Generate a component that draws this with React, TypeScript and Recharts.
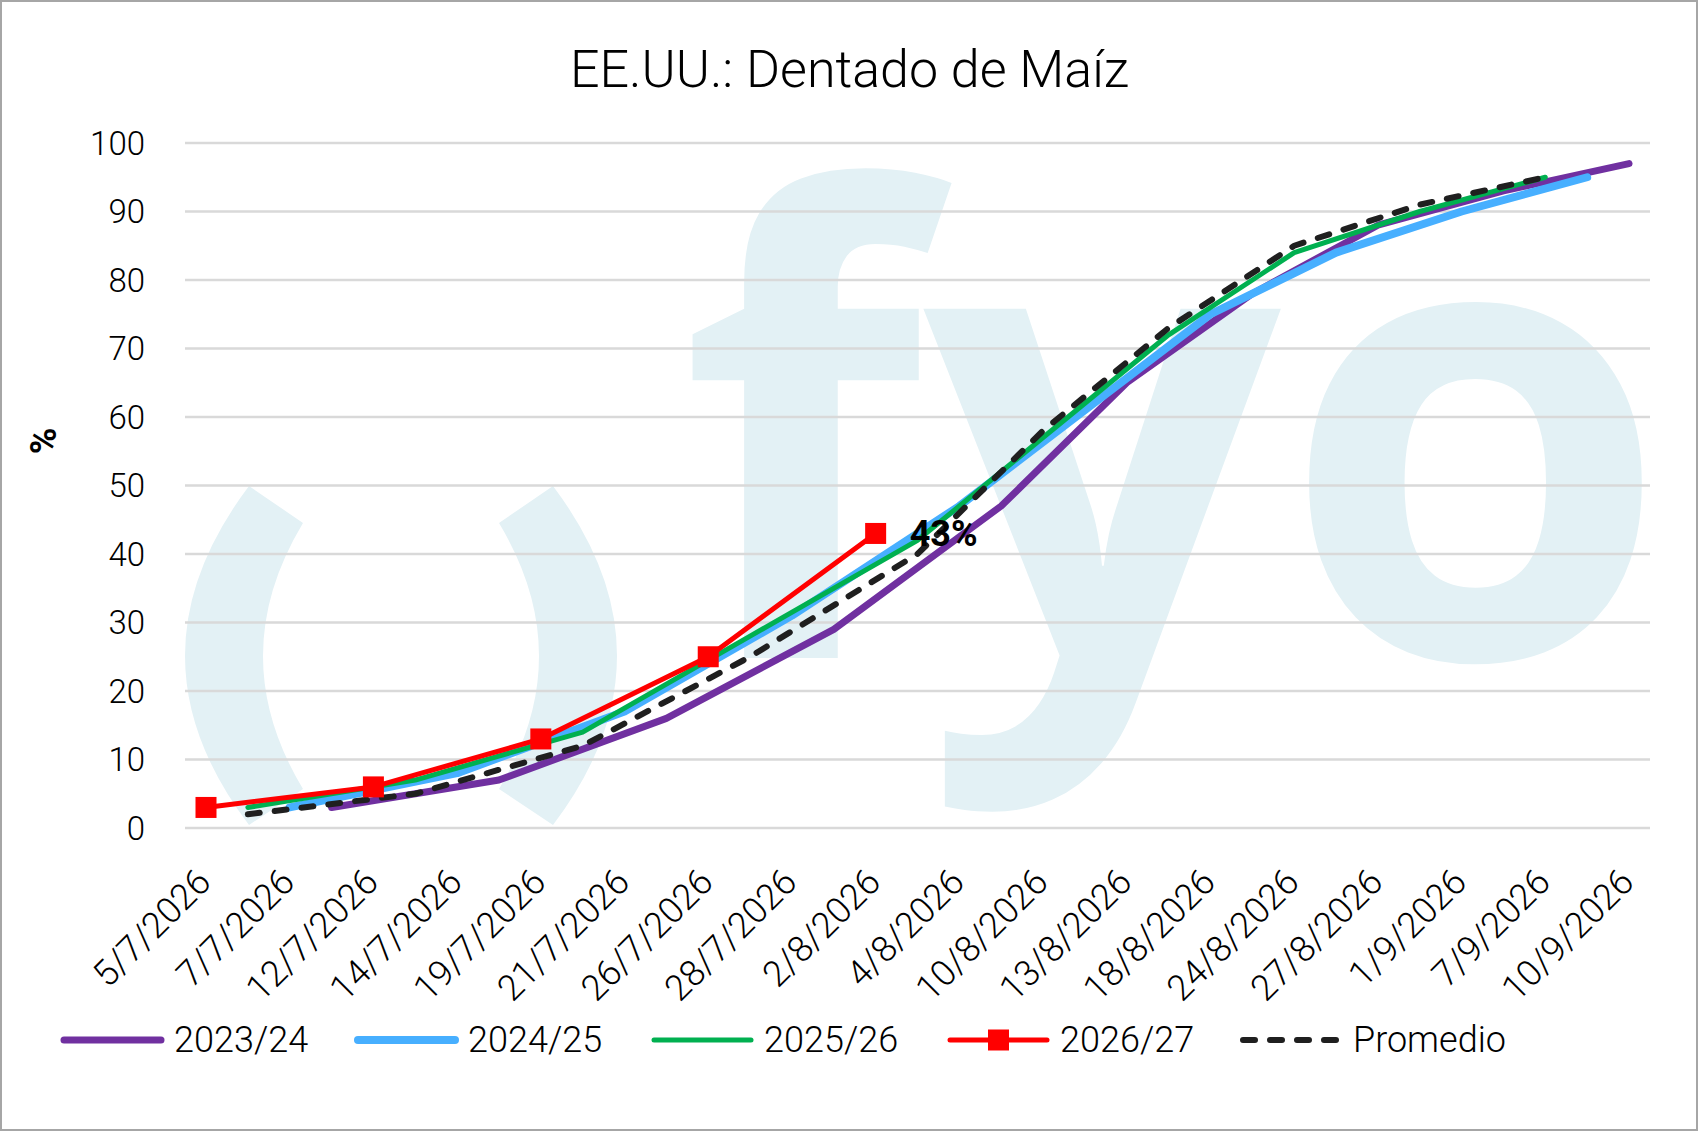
import { LineChart, Line, XAxis, YAxis, CartesianGrid, Legend, LabelList } from "recharts";

// weekly report dates of every season, moved to 2026 (every other one is labelled)
const dates = [
  "5/7/2026", "6/7/2026", "7/7/2026", "9/7/2026", "12/7/2026", "13/7/2026", "14/7/2026",
  "16/7/2026", "19/7/2026", "20/7/2026", "21/7/2026", "23/7/2026", "26/7/2026", "27/7/2026",
  "28/7/2026", "30/7/2026", "2/8/2026", "3/8/2026", "4/8/2026", "6/8/2026", "10/8/2026",
  "11/8/2026", "13/8/2026", "17/8/2026", "18/8/2026", "20/8/2026", "24/8/2026", "25/8/2026",
  "27/8/2026", "31/8/2026", "1/9/2026", "3/9/2026", "7/9/2026", "8/9/2026", "10/9/2026",
];

const s2324 = [null, null, null, 3, null, null, null, 7, null, null, null, 16, null, null, null, 29, null, null, null, 47, null, null, 65, null, null, 78, null, null, 88, null, null, 93, null, null, 97];
const s2425 = [null, null, 3, null, null, null, 8, null, null, null, 17, null, null, null, 31, null, null, null, 47, null, null, 61, null, null, 75, null, null, 84, null, null, 90, null, null, 95, null];
const s2526 = [null, 3, null, null, null, 7, null, null, null, 14, null, null, null, 28, null, null, null, 42, null, null, 57, null, null, 72, null, null, 84, null, null, 90, null, null, 95, null, null];
const s2627 = [3, null, null, null, 6, null, null, null, 13, null, null, null, 25, null, null, null, 43, null, null, null, null, null, null, null, null, null, null, null, null, null, null, null, null, null, null];
const promedio = [null, 2, null, null, null, 5, null, null, null, 12, null, null, null, 25, null, null, null, 40, null, null, 58, null, null, 73, null, null, 85, null, null, 91, null, null, 95, null, null];

const yTicks = [0, 10, 20, 30, 40, 50, 60, 70, 80, 90, 100];

const data = dates.map((date, i) => ({
  date,
  s2324: s2324[i],
  s2425: s2425[i],
  s2526: s2526[i],
  s2627: s2627[i],
  promedio: promedio[i],
}));

const lastRed = s2627.reduce((acc, v, i) => (v != null ? i : acc), 0);

const FONT = "Roboto, 'Liberation Sans', sans-serif";
const W = 1699;
const H = 1132;

const legendItems = [
  { name: "2023/24", color: "#7030A0", width: 7, left: 60 },
  { name: "2024/25", color: "#47AFFF", width: 8, left: 354 },
  { name: "2025/26", color: "#00B050", width: 5, left: 650 },
  { name: "2026/27", color: "#FF0000", width: 5, left: 946, marker: true },
  { name: "Promedio", color: "#1F1F1F", width: 6, left: 1239, dashed: true },
];

function DateTick({ x, y, payload }: any) {
  return (
    <text
      transform={`translate(${x + 7},${y + 56}) rotate(-45)`}
      textAnchor="end"
      fontSize={36}
      fontFamily={FONT}
      fontWeight={300}
      fill="#000"
    >
      {payload.value}
    </text>
  );
}

function SquareDot(props: any) {
  const { cx, cy, value, index } = props;
  if (value == null || cx == null || cy == null) return <g key={`e${index}`} />;
  return <rect key={`d${index}`} x={cx - 10.5} y={cy - 10.5} width={21} height={21} fill="#FF0000" />;
}

function EndLabel(props: any) {
  const { x, y, value, index } = props;
  if (index !== lastRed || value == null) return null;
  return (
    <text x={x + 34} y={y} dy={12.6} fontSize={36} fontWeight={700} fontFamily={FONT} fill="#000">
      {value}%
    </text>
  );
}

function LegendBox() {
  return (
    <div style={{ position: "relative", height: 56, fontFamily: FONT, fontWeight: 300, fontSize: 36, color: "#000" }}>
      {legendItems.map((it) => (
        <div key={it.name} style={{ position: "absolute", left: it.left, top: 0, display: "flex", alignItems: "center", height: 56 }}>
          <svg width={105} height={30} style={{ marginRight: 9 }}>
            <line
              x1={4}
              y1={15}
              x2={101}
              y2={15}
              stroke={it.color}
              strokeWidth={it.width}
              strokeLinecap="round"
              strokeDasharray={it.dashed ? "12 15" : undefined}
            />
            {it.marker && <rect x={42} y={4.5} width={21} height={21} fill={it.color} />}
          </svg>
          <span style={{ lineHeight: 1 }}>{it.name}</span>
        </div>
      ))}
    </div>
  );
}

export default function App() {
  return (
    <div style={{ position: "absolute", left: 0, top: 0, width: W, height: H, background: "#fff", overflow: "hidden" }}>
      <svg width={W} height={H} style={{ position: "absolute", left: 0, top: 0 }}>
        <rect x={1} y={1} width={W - 3} height={H - 3} fill="#fff" stroke="#A6A6A6" strokeWidth={2} />
        <g fill="#E3F1F5">
          <path d="M249,486 Q121,656 249,825 L303,789 Q223,656 303,523 Z" />
          <path d="M553,486 Q681,656 553,825 L499,789 Q579,656 499,523 Z" />
          <text
            x={680}
            y={658}
            fontSize={640}
            style={{ fontFamily: "'Open Sans', 'Noto Sans', sans-serif", fontWeight: 700 }}
            textLength={990}
            lengthAdjust="spacingAndGlyphs"
          >
            fyo
          </text>
        </g>
        <text x={W / 2} y={87} textAnchor="middle" fontSize={52} fontFamily={FONT} fontWeight={300} fill="#000">
          EE.UU.: Dentado de Maíz
        </text>
        <text transform="translate(56,441) rotate(-90)" textAnchor="middle" fontSize={36} fontWeight={700} fontFamily={FONT} fill="#000">
          %
        </text>
      </svg>
      <div style={{ position: "absolute", left: 0, top: 0 }}>
        <LineChart width={W} height={H} data={data} margin={{ top: 143, right: 49, left: 85, bottom: 104 }}>
          <CartesianGrid vertical={false} stroke="#D9D9D9" strokeWidth={2.5} />
          <XAxis
            dataKey="date"
            interval={1}
            tick={<DateTick />}
            tickLine={false}
            axisLine={false}
            tickSize={0}
            tickMargin={0}
            height={200}
            padding={{ left: 21, right: 21 }}
          />
          <YAxis
            domain={[0, 100]}
            ticks={yTicks}
            width={100}
            tickLine={false}
            axisLine={false}
            tickSize={0}
            tickMargin={40}
            tick={{ fontSize: 33, fill: "#000", fontFamily: FONT, fontWeight: 300 }}
          />
          <Legend
            verticalAlign="middle"
            align="center"
            layout="horizontal"
            wrapperStyle={{ top: 1012, left: 0, width: W, height: 56 }}
            content={() => <LegendBox />}
          />
          <Line dataKey="s2324" stroke="#7030A0" strokeWidth={7} dot={false} activeDot={false} connectNulls strokeLinecap="round" strokeLinejoin="round" isAnimationActive={false} />
          <Line dataKey="s2425" stroke="#47AFFF" strokeWidth={8} dot={false} activeDot={false} connectNulls strokeLinecap="round" strokeLinejoin="round" isAnimationActive={false} />
          <Line dataKey="s2526" stroke="#00B050" strokeWidth={5} dot={false} activeDot={false} connectNulls strokeLinecap="round" strokeLinejoin="round" isAnimationActive={false} />
          <Line dataKey="promedio" stroke="#1F1F1F" strokeWidth={6} strokeDasharray="12 15" dot={false} activeDot={false} connectNulls strokeLinecap="round" strokeLinejoin="round" isAnimationActive={false} />
          <Line dataKey="s2627" stroke="#FF0000" strokeWidth={5} dot={SquareDot} activeDot={false} connectNulls strokeLinejoin="round" isAnimationActive={false}>
            <LabelList dataKey="s2627" content={EndLabel} />
          </Line>
        </LineChart>
      </div>
    </div>
  );
}
